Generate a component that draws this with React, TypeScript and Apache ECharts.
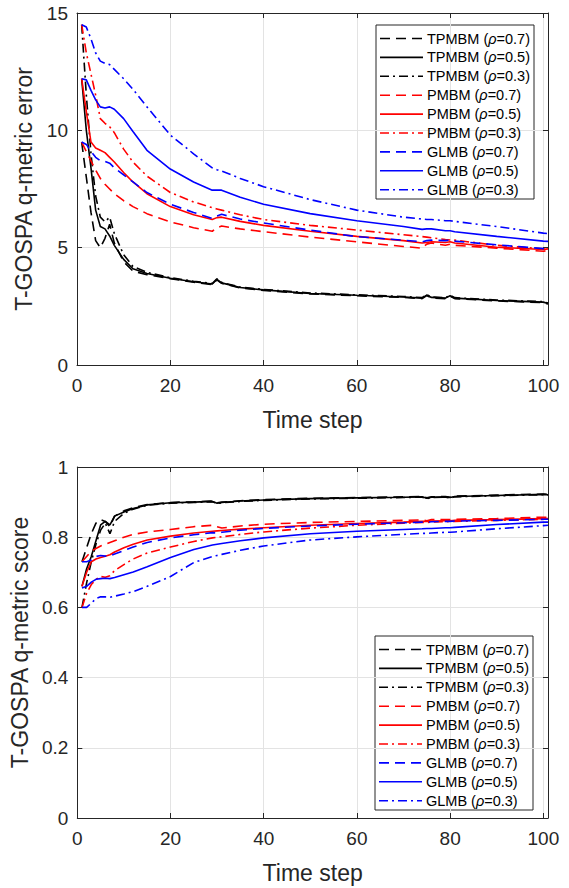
import React, { useEffect, useRef } from "react";
import * as echarts from "echarts";

const steps = [1, 2, 3, 4, 5, 6, 7, 8, 10, 12, 15, 20, 25, 29, 30, 31, 35, 40, 50, 60, 70, 74, 75, 76, 79, 80, 81, 90, 100, 101];

const methods = ["TPMBM", "TPMBM", "TPMBM", "PMBM", "PMBM", "PMBM", "GLMB", "GLMB", "GLMB"];
const rhos = ["0.7", "0.5", "0.3", "0.7", "0.5", "0.3", "0.7", "0.5", "0.3"];
const seriesNames = methods.map((m, i) => `${m} (ρ=${rhos[i]})`);

// Top plot: T-GOSPA q-metric error
const errTPMBM07 = [9.5, 8.0, 6.5, 5.3, 5.0, 5.4, 6.0, 5.2, 4.4, 4.0, 3.85, 3.68, 3.53, 3.43, 3.63, 3.48, 3.28, 3.18, 3.03, 2.95, 2.88, 2.83, 2.96, 2.86, 2.83, 2.93, 2.83, 2.73, 2.66, 2.6];
const errTPMBM05 = [12.2, 10.0, 8.4, 6.6, 5.9, 5.8, 5.5, 5.1, 4.5, 4.1, 3.9, 3.7, 3.55, 3.45, 3.65, 3.5, 3.3, 3.2, 3.05, 2.97, 2.9, 2.85, 2.98, 2.88, 2.85, 2.95, 2.85, 2.75, 2.68, 2.62];
const errTPMBM03 = [14.5, 11.5, 9.0, 7.2, 6.3, 6.1, 6.3, 5.6, 4.7, 4.2, 3.95, 3.72, 3.57, 3.47, 3.67, 3.52, 3.32, 3.22, 3.07, 2.99, 2.92, 2.87, 3.0, 2.9, 2.87, 2.97, 2.87, 2.77, 2.7, 2.64];
const errPMBM07 = [9.5, 9.1, 8.7, 8.3, 7.95, 7.7, 7.5, 7.3, 7.0, 6.75, 6.45, 6.1, 5.85, 5.7, 5.85, 5.92, 5.8, 5.68, 5.45, 5.25, 5.05, 4.98, 5.15, 5.2, 5.1, 5.15, 5.1, 4.98, 4.85, 4.88];
const errPMBM05 = [12.2, 10.8, 9.5, 9.25, 9.15, 9.05, 8.85, 8.65, 8.2, 7.8, 7.3, 6.75, 6.4, 6.2, 6.28, 6.3, 6.12, 5.95, 5.7, 5.48, 5.3, 5.2, 5.22, 5.25, 5.22, 5.25, 5.2, 5.02, 4.92, 4.95];
const errPMBM03 = [14.5, 13.3, 12.4, 11.5, 10.5, 10.3, 10.15, 9.9, 9.2, 8.65, 8.05, 7.35, 6.95, 6.7, 6.65, 6.6, 6.4, 6.2, 5.95, 5.75, 5.55, 5.47, 5.45, 5.42, 5.35, 5.33, 5.32, 5.1, 4.95, 4.97];
const errGLMB07 = [9.5, 9.4, 9.1, 8.85, 8.7, 8.68, 8.6, 8.4, 8.1, 7.8, 7.35, 6.85, 6.5, 6.25, 6.35, 6.42, 6.22, 6.05, 5.75, 5.47, 5.32, 5.25, 5.3, 5.32, 5.3, 5.32, 5.28, 5.12, 4.96, 4.95];
const errGLMB05 = [12.2, 12.15, 11.7, 11.3, 11.0, 10.95, 11.0, 10.9, 10.5, 9.95, 9.15, 8.35, 7.8, 7.45, 7.45, 7.45, 7.15, 6.85, 6.45, 6.15, 5.9, 5.78, 5.8, 5.8, 5.72, 5.72, 5.68, 5.48, 5.28, 5.27];
const errGLMB03 = [14.5, 14.4, 13.9, 13.3, 12.95, 12.85, 12.8, 12.6, 12.2, 11.75, 11.0, 9.8, 9.0, 8.4, 8.32, 8.27, 7.95, 7.6, 7.05, 6.6, 6.3, 6.22, 6.2, 6.2, 6.15, 6.15, 6.12, 5.9, 5.62, 5.6];

// Bottom plot: T-GOSPA q-metric score
const scoreTPMBM07 = [0.73, 0.77, 0.81, 0.84, 0.85, 0.845, 0.83, 0.86, 0.875, 0.884, 0.893, 0.899, 0.901, 0.903, 0.898, 0.9, 0.904, 0.907, 0.911, 0.913, 0.915, 0.916, 0.912, 0.915, 0.916, 0.914, 0.917, 0.92, 0.923, 0.922];
const scoreTPMBM05 = [0.66, 0.71, 0.745, 0.79, 0.835, 0.845, 0.835, 0.86, 0.872, 0.882, 0.892, 0.898, 0.9, 0.902, 0.897, 0.899, 0.903, 0.906, 0.91, 0.912, 0.914, 0.915, 0.911, 0.914, 0.915, 0.913, 0.916, 0.919, 0.922, 0.921];
const scoreTPMBM03 = [0.6, 0.67, 0.73, 0.78, 0.82, 0.84, 0.81, 0.845, 0.868, 0.88, 0.891, 0.897, 0.899, 0.901, 0.896, 0.898, 0.902, 0.905, 0.909, 0.911, 0.913, 0.914, 0.91, 0.913, 0.914, 0.912, 0.915, 0.918, 0.921, 0.92];
const scorePMBM07 = [0.73, 0.745, 0.76, 0.768, 0.775, 0.78, 0.785, 0.79, 0.8, 0.808, 0.815, 0.822, 0.83, 0.834, 0.83, 0.826, 0.832, 0.837, 0.842, 0.845, 0.848, 0.849, 0.847, 0.85, 0.85, 0.85, 0.851, 0.853, 0.857, 0.857];
const scorePMBM05 = [0.66, 0.7, 0.73, 0.738, 0.742, 0.746, 0.75, 0.758, 0.77, 0.78, 0.792, 0.803, 0.812, 0.817, 0.818, 0.819, 0.823, 0.827, 0.834, 0.839, 0.843, 0.845, 0.845, 0.846, 0.847, 0.847, 0.848, 0.85, 0.853, 0.853];
const scorePMBM03 = [0.6, 0.64, 0.665, 0.68, 0.688, 0.686, 0.69, 0.705, 0.722, 0.738, 0.755, 0.772, 0.788, 0.798, 0.8, 0.801, 0.808, 0.815, 0.826, 0.834, 0.84, 0.842, 0.842, 0.843, 0.844, 0.845, 0.845, 0.848, 0.851, 0.851];
const scoreGLMB07 = [0.73, 0.73, 0.735, 0.745, 0.748, 0.746, 0.747, 0.752, 0.762, 0.772, 0.785, 0.798, 0.807, 0.813, 0.812, 0.814, 0.82, 0.825, 0.832, 0.837, 0.841, 0.843, 0.843, 0.844, 0.845, 0.845, 0.846, 0.848, 0.851, 0.851];
const scoreGLMB05 = [0.655, 0.66, 0.672, 0.68, 0.682, 0.683, 0.682, 0.685, 0.693, 0.701, 0.716, 0.742, 0.765, 0.778, 0.78, 0.782, 0.79, 0.798, 0.81, 0.817, 0.822, 0.824, 0.825, 0.825, 0.827, 0.827, 0.828, 0.836, 0.843, 0.843];
const scoreGLMB03 = [0.6, 0.6, 0.612, 0.625, 0.63, 0.63, 0.629, 0.632, 0.638, 0.645, 0.66, 0.688, 0.728, 0.745, 0.748, 0.751, 0.763, 0.775, 0.792, 0.801, 0.808, 0.811, 0.811, 0.812, 0.814, 0.814, 0.815, 0.824, 0.833, 0.834];

const errValues = [errTPMBM07, errTPMBM05, errTPMBM03, errPMBM07, errPMBM05, errPMBM03, errGLMB07, errGLMB05, errGLMB03];
const scoreValues = [scoreTPMBM07, scoreTPMBM05, scoreTPMBM03, scorePMBM07, scorePMBM05, scorePMBM03, scoreGLMB07, scoreGLMB05, scoreGLMB03];

const errTicks = [0, 5, 10, 15];
const scoreTicks = [0, 0.2, 0.4, 0.6, 0.8, 1];
const timeTicks = [0, 20, 40, 60, 80, 100];

const COLORS = ["#000000", "#000000", "#000000", "#ff0000", "#ff0000", "#ff0000", "#0000ff", "#0000ff", "#0000ff"];
const DASHED = [10, 6];
const DASHDOT = [9, 4, 2, 4];
const STYLES: any[] = [DASHED, "solid", DASHDOT, DASHED, "solid", DASHDOT, DASHED, "solid", DASHDOT];

const FONT = "'Liberation Sans', Arial, Helvetica, sans-serif";
const AXC = "#262626";
const GRIDC = "#e3e3e3";
const LINE_W = 1.6;

export default function App() {
  const ref = useRef<HTMLDivElement>(null);
  useEffect(() => {
    if (!ref.current) return;
    const chart = echarts.init(ref.current, null, { renderer: "svg" });

    const grids = [
      { left: 77, top: 13, width: 471, height: 352 },
      { left: 77, top: 467, width: 471, height: 351 },
    ];

    const baseX = (gi: number, pos: "bottom" | "top") => ({
      type: "value",
      gridIndex: gi,
      position: pos,
      min: 0,
      max: 101,
      interval: 20,
      axisLine: { show: true, onZero: false, lineStyle: { color: AXC, width: 1 } },
      axisTick: { show: true, inside: true, length: 5, lineStyle: { color: AXC } },
      axisLabel: pos === "bottom"
        ? {
            show: true,
            margin: 11,
            fontSize: 19,
            fontFamily: FONT,
            color: AXC,
            formatter: (v: number) => (timeTicks.includes(v) ? String(v) : ""),
          }
        : { show: false },
      splitLine: pos === "bottom" ? { show: true, lineStyle: { color: GRIDC, width: 1 } } : { show: false },
      name: pos === "bottom" ? "Time step" : "",
      nameLocation: "middle",
      nameGap: 43,
      nameTextStyle: { fontSize: 23, fontFamily: FONT, color: AXC },
    });

    const baseY = (gi: number, pos: "left" | "right", max: number, interval: number, ticks: number[], name: string) => ({
      type: "value",
      gridIndex: gi,
      position: pos,
      min: 0,
      max,
      interval,
      axisLine: { show: true, onZero: false, lineStyle: { color: AXC, width: 1 } },
      axisTick: { show: true, inside: true, length: 5, lineStyle: { color: AXC } },
      axisLabel: pos === "left"
        ? {
            show: true,
            margin: 9,
            fontSize: 19,
            fontFamily: FONT,
            color: AXC,
            formatter: (v: number) => {
              const t = ticks.find((k) => Math.abs(k - v) < 1e-9);
              return t === undefined ? "" : String(t);
            },
          }
        : { show: false },
      splitLine: pos === "left" ? { show: true, lineStyle: { color: GRIDC, width: 1 } } : { show: false },
      name: pos === "left" ? name : "",
      nameLocation: "middle",
      nameGap: 37,
      nameRotate: 90,
      nameTextStyle: { fontSize: 23, fontFamily: FONT, color: AXC },
    });

    const series: any[] = [];
    errValues.forEach((vals, i) => {
      series.push({
        name: seriesNames[i],
        type: "line",
        xAxisIndex: 0,
        yAxisIndex: 0,
        symbol: "none",
        showSymbol: false,
        data: steps.map((t, k) => [t, vals[k]]),
        lineStyle: { color: COLORS[i], width: LINE_W, type: STYLES[i] },
        itemStyle: { color: COLORS[i] },
        z: 2 + i,
      });
    });
    scoreValues.forEach((vals, i) => {
      series.push({
        name: seriesNames[i],
        type: "line",
        xAxisIndex: 2,
        yAxisIndex: 2,
        symbol: "none",
        showSymbol: false,
        data: steps.map((t, k) => [t, vals[k]]),
        lineStyle: { color: COLORS[i], width: LINE_W, type: STYLES[i] },
        itemStyle: { color: COLORS[i] },
        z: 2 + i,
      });
    });

    // Legend boxes (MATLAB style) drawn as graphic elements
    const rich = {
      n: { fontSize: 14.5, fontFamily: FONT, fill: "#000" },
      g: { fontSize: 14.5, fontFamily: FONT, fontStyle: "italic", fill: "#000" },
    };
    const makeLegend = (x0: number, y0: number) => {
      const children: any[] = [
        {
          type: "rect",
          shape: { x: x0, y: y0, width: 158, height: 174 },
          style: { fill: "#ffffff", stroke: AXC, lineWidth: 1 },
          z: 0,
        },
      ];
      seriesNames.forEach((_, i) => {
        const cy = y0 + 13.5 + i * 18.9;
        const dash = STYLES[i];
        children.push({
          type: "line",
          shape: { x1: x0 + 4, y1: cy, x2: x0 + 47, y2: cy },
          style: {
            stroke: COLORS[i],
            lineWidth: LINE_W,
            lineDash: Array.isArray(dash) ? dash : null,
          },
          z: 1,
        });
        children.push({
          type: "text",
          x: x0 + 51,
          y: cy,
          style: {
            text: `{n|${methods[i]} (}{g|ρ}{n|=${rhos[i]})}`,
            rich,
            verticalAlign: "middle",
            align: "left",
            fill: "#000",
          },
          z: 1,
        });
      });
      return { type: "group", z: 50, children };
    };

    chart.setOption({
      animation: false,
      backgroundColor: "#ffffff",
      grid: grids,
      xAxis: [baseX(0, "bottom"), baseX(0, "top"), baseX(1, "bottom"), baseX(1, "top")],
      yAxis: [
        baseY(0, "left", 15, 5, errTicks, "T-GOSPA q-metric error"),
        baseY(0, "right", 15, 5, errTicks, ""),
        baseY(1, "left", 1, 0.2, scoreTicks, "T-GOSPA q-metric score"),
        baseY(1, "right", 1, 0.2, scoreTicks, ""),
      ],
      graphic: [makeLegend(376, 25), makeLegend(375, 636)],
      series,
    });
    return () => chart.dispose();
  }, []);
  return (
    <div
      ref={ref}
      style={{ position: "absolute", left: 0, top: 0, width: 569, height: 888, background: "#fff" }}
    />
  );
}
